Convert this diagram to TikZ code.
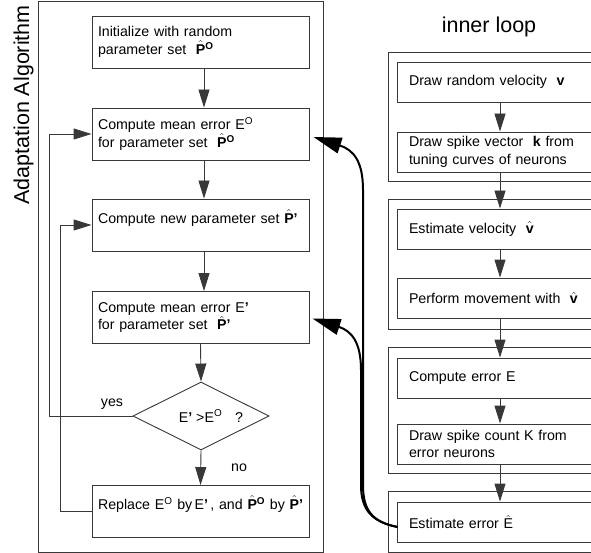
\documentclass[tikz,border=0pt]{standalone}
\usepackage{fontspec}
\setmainfont{Liberation Sans}
\usetikzlibrary{arrows.meta,shapes.geometric,calc}
\newcommand{\myPh}{$\hat{\mbox{\bfseries P}}$}
\newcommand{\myPo}{\myPh\textsuperscript{\bfseries O}}
\newcommand{\myPp}{\myPh\textbf{'}}
\newcommand{\myEo}{E\textsuperscript{O}}
\newcommand{\myEp}{E\textbf{'}}
\newcommand{\myvh}{$\hat{\mbox{\bfseries v}}$}
\newcommand{\myEh}{$\hat{\mbox{E}}$}
\begin{document}
\begin{tikzpicture}[x=1pt,y=-1pt,
  every node/.style={font=\fontsize{14.2}{17.5}\selectfont},
  line/.style={draw=black!78,line width=0.9pt},
  lbox/.style={line, rectangle, text width=205pt, inner xsep=6pt, inner ysep=3pt, minimum height=52pt, align=left},
  rbox/.style={line, rectangle, text width=199pt, inner xsep=12pt, inner ysep=3pt, minimum height=40pt, align=left},
  dia/.style={line, diamond, aspect=2, minimum width=136pt, minimum height=68pt, inner sep=0pt},
  arr/.style={line, -{Triangle[length=18pt,width=11pt]}},
  big/.style={draw=black, line width=2pt, -{Triangle[length=28pt,width=16pt]}},
  title/.style={font=\fontsize{21.5}{24}\selectfont}
]
\useasboundingbox (0,0) rectangle (591,553);
\clip (0,0) rectangle (591,553);

% titles
\node[title, rotate=90, anchor=base] (aa) at (29,105) {Adaptation Algorithm};
\node[title, anchor=base] (il) at (489,33) {inner loop};

% left frame
\draw[line] (38,1) rectangle (323,552);

% left boxes
\node[lbox] (b1) at (200.5,42) {Initialize with random\\parameter set \ \myPo};
\node[lbox] (b2) at (200.5,134) {Compute mean error \myEo\\for parameter set \ \myPo};
\node[lbox] (b3) at (200.5,225) {Compute new parameter set \myPp\\\mbox{}};
\node[lbox] (b4) at (200.5,317.5) {Compute mean error \myEp\\for parameter set \ \myPp};
\node[dia, label={[xshift=10pt]center:{\myEp\ >\myEo\hspace{13pt}?}}] (d) at (201,416) {};
\node[lbox] (b5) at (200.5,511.5) {\mbox{Replace \myEo\ by\,\myEp\,, and \myPo\ by \myPp}\\\mbox{}};

\node (yes) at (112,404) {yes};
\node (no) at (239,468) {no};

\coordinate (lx) at (204,0);
\draw[arr] (b1.south -| lx) -- (b2.north -| lx);
\draw[arr] (b2.south -| lx) -- (b3.north -| lx);
\draw[arr] (b3.south -| lx) -- (b4.north -| lx);
\draw[arr] (b4.south) -- (d.north);
\draw[arr] (d.south) -- (b5.north);

\coordinate (yl) at (49,0);
\coordinate (ll) at (60,0);
\draw[arr] (d.west) -- (d.west -| yl) |- (b2.west);
\draw[arr] (b5.west) -- (b5.west -| ll) |- (b3.west);

% right frames
\draw[line] (388,52) rectangle (620,181);
\draw[line] (388,199) rectangle (620,329);
\draw[line] (388,347) rectangle (620,473);
\draw[line] (388,491) rectangle (620,552);

% right boxes
\node[rbox] (r1) at (508.5,82) {Draw random velocity \ \textbf{v}};
\node[rbox] (r2) at (508.5,152) {Draw spike vector \ \textbf{k} from\\tuning curves of neurons};
\node[rbox] (r3) at (508.5,229) {Estimate velocity \ \myvh};
\node[rbox] (r4) at (508.5,298) {Perform movement with \ \myvh};
\node[rbox] (r5) at (508.5,378) {Compute error E};
\node[rbox] (r6) at (508.5,444) {Draw spike count K from\\error neurons};
\node[rbox] (r7) at (508.5,522) {Estimate error \myEh};

\coordinate (ax) at (500,0);
\draw[arr] (r1.south -| ax) -- (r2.north -| ax);
\draw[arr] (r2.south -| ax) -- (r3.north -| ax);
\draw[arr] (r3.south -| ax) -- (r4.north -| ax);
\draw[arr] (r4.south -| ax) -- (r5.north -| ax);
\draw[arr] (r5.south -| ax) -- (r6.north -| ax);
\draw[arr] (r6.south -| ax) -- (r7.north -| ax);

% feedback curves
\coordinate (st) at ($(r7.west)+(1,5)$);
\draw[big] (st) .. controls (372,522) and (363,510) .. (363,485) -- (363,190)
  .. controls (363,162) and (354,150) .. ($(b2.east)+(4,3)$);
\draw[big] (st) .. controls (372,522) and (361,510) .. (361,485) -- (361,370)
  .. controls (361,343) and (352,331) .. ($(b4.east)+(3,1)$);
\end{tikzpicture}
\end{document}
